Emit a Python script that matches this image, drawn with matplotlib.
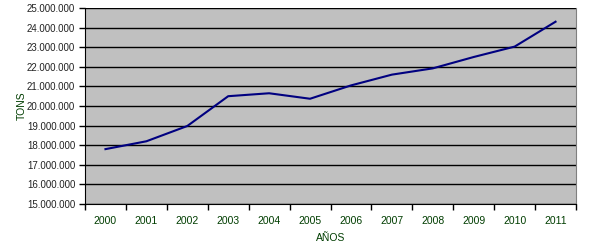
import matplotlib
matplotlib.use('Agg')
import matplotlib.pyplot as plt
from matplotlib.ticker import FuncFormatter, FixedLocator

years = ['2000', '2001', '2002', '2003', '2004', '2005',
         '2006', '2007', '2008', '2009', '2010', '2011']
tons = [17800000, 18200000, 18980000, 20500000, 20650000, 20370000,
        21050000, 21600000, 21920000, 22500000, 23030000, 24300000]

plt.rcParams['font.family'] = ['Liberation Sans', 'DejaVu Sans']

fig = plt.figure(figsize=(5.9, 2.47), dpi=100)
ax = fig.add_axes([85 / 590, 43 / 247, 491 / 590, 196 / 247])
ax.set_facecolor('#c0c0c0')

x = list(range(len(years)))
ax.plot(x, tons, color='#000080', linewidth=1.5, zorder=3)

ax.set_xlim(-0.5, len(years) - 0.5)
ax.set_ylim(15000000, 25000000)
ax.set_yticks(range(15000000, 25000001, 1000000))
ax.yaxis.set_major_formatter(FuncFormatter(lambda v, p: f'{int(v):,}'.replace(',', '.')))
ax.grid(axis='y', color='black', linewidth=1)
ax.set_axisbelow(True)

ax.set_xticks(x)
ax.set_xticklabels(years, color='#003d00')
ax.xaxis.set_minor_locator(FixedLocator([i - 0.5 for i in range(len(years) + 1)]))
ax.tick_params(axis='x', which='major', length=0, pad=8.5, labelsize=7.5)
ax.tick_params(axis='x', which='minor', length=4, width=1, color='black')
ax.tick_params(axis='y', length=4, width=1, labelsize=7, labelcolor='#222222', pad=3)

ax.spines['top'].set_visible(False)
ax.spines['right'].set_color('#808080')
ax.spines['left'].set_color('black')
ax.spines['bottom'].set_color('black')

ax.set_ylabel('TONS', color='#003d00', fontsize=7.5)
ax.yaxis.set_label_coords(-0.118, 0.5)
ax.set_xlabel('AÑOS', color='#003d00', fontsize=7.5)
ax.xaxis.set_label_coords(0.5, -0.15)

fig.savefig('out.png', dpi=100)
